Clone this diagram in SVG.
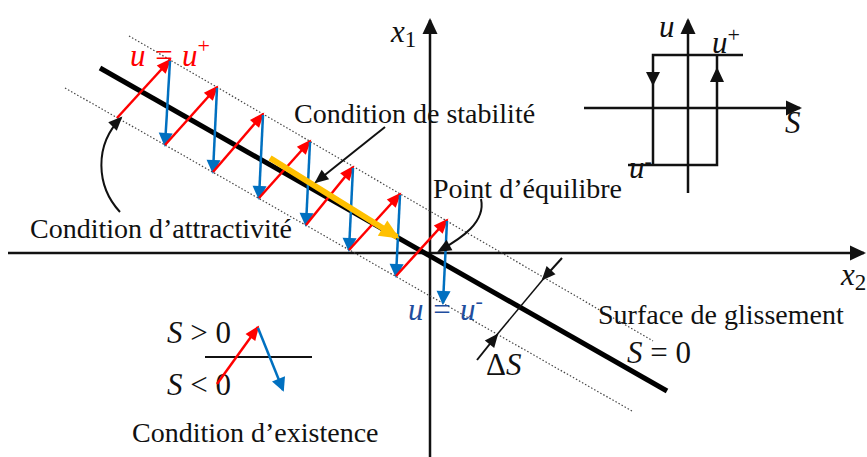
<svg xmlns="http://www.w3.org/2000/svg" width="867" height="457" viewBox="0 0 867 457">
<defs>
<style>
.lbl{font-family:"Liberation Serif","Times New Roman",serif;font-size:28px;fill:#111}
.math{font-family:"Liberation Serif","Times New Roman",serif;font-style:italic;font-size:31px;fill:#111}
.up{font-style:normal}
.ax{stroke:#111;stroke-width:2.5;fill:none}
.red{stroke:#FF0000;stroke-width:2.5;fill:none;marker-end:url(#hr)}
.blue{stroke:#0070C0;stroke-width:2.5;fill:none;marker-end:url(#hb)}
.dot{stroke:#444;stroke-width:1.2;stroke-dasharray:1.5 2;fill:none}
.blk{stroke:#111;stroke-width:2;fill:none;marker-end:url(#hk)}
</style>
<marker id="hr" markerUnits="userSpaceOnUse" markerWidth="16" markerHeight="14" refX="13" refY="6" orient="auto" overflow="visible"><path d="M0,0 L15,6 L0,12 z" fill="#FF0000"/></marker>
<marker id="hb" markerUnits="userSpaceOnUse" markerWidth="16" markerHeight="16" refX="12" refY="7" orient="auto" overflow="visible"><path d="M0,0 L14,7 L0,14 z" fill="#0070C0"/></marker>
<marker id="hy" markerUnits="userSpaceOnUse" markerWidth="22" markerHeight="20" refX="17" refY="9" orient="auto" overflow="visible"><path d="M0,0 L20,9 L0,18 z" fill="#FFC000"/></marker>
<marker id="hk" markerUnits="userSpaceOnUse" markerWidth="16" markerHeight="14" refX="12" refY="6" orient="auto" overflow="visible"><path d="M0,0 L14,6 L0,12 z" fill="#111"/></marker>
<marker id="ha" markerUnits="userSpaceOnUse" markerWidth="18" markerHeight="16" refX="14" refY="7.5" orient="auto" overflow="visible"><path d="M0,0 L16,7.5 L0,15 z" fill="#111"/></marker>
</defs>
<rect width="867" height="457" fill="#fff"/>

<g id="axes">
<line class="ax" x1="8" y1="253" x2="864" y2="253" marker-end="url(#ha)"/>
<line class="ax" x1="430" y1="457" x2="430" y2="20" marker-end="url(#ha)"/>
<text class="math" x="391" y="42" font-size="33">x<tspan class="up" font-size="23" dy="5">1</tspan></text>
<text class="math" x="841" y="285" font-size="33">x<tspan class="up" font-size="23" dy="5">2</tspan></text>
</g>

<g id="surface">
<line x1="100" y1="68" x2="667" y2="391" stroke="#000" stroke-width="5"/>
<line class="dot" x1="129" y1="36" x2="653" y2="341"/>
<line class="dot" x1="65" y1="88" x2="632" y2="411"/>
</g>

<g id="zigzag">
<line class="red" x1="117" y1="118" x2="170" y2="60"/>
<line class="blue" x1="170" y1="61" x2="165" y2="145"/>
<line class="red" x1="165" y1="145" x2="217" y2="87"/>
<line class="blue" x1="217" y1="88" x2="213" y2="172"/>
<line class="red" x1="213" y1="172" x2="263" y2="114"/>
<line class="blue" x1="263" y1="115" x2="259" y2="198"/>
<line class="red" x1="259" y1="198" x2="310" y2="141"/>
<line class="blue" x1="310" y1="142" x2="306" y2="225"/>
<line class="red" x1="306" y1="225" x2="353" y2="167"/>
<line class="blue" x1="353" y1="168" x2="349" y2="250"/>
<line class="red" x1="349" y1="250" x2="400" y2="194"/>
<line class="blue" x1="400" y1="195" x2="396" y2="276"/>
<line class="red" x1="396" y1="276" x2="447" y2="220"/>
<line class="blue" x1="447" y1="221" x2="443" y2="303"/>
</g>

<g id="stabilite">
<line x1="270" y1="158" x2="397" y2="237" stroke="#FFC000" stroke-width="6" marker-end="url(#hy)"/>
<line class="blk" x1="385" y1="127" x2="316" y2="182"/>
<text class="lbl" x="294" y="123">Condition de stabilité</text>
</g>

<g id="attractivite">
<path class="blk" d="M120 212 C96 186 94 145 121 118"/>
<text class="lbl" x="30" y="238">Condition d’attractivité</text>
</g>

<g id="equilibre">
<path class="blk" d="M481 199 C486 222 462 238 439 251"/>
<text class="lbl" x="433" y="198">Point d’équilibre</text>
</g>

<g id="labels-u">
<text class="math" x="130" y="66" style="fill:#FF0000">u = u<tspan class="up" font-size="22" dy="-13">+</tspan></text>
<text class="math" x="408" y="320" style="fill:#1F4E9E">u = u<tspan class="up" font-size="22" dy="-12">-</tspan></text>
</g>

<g id="glissement">
<line x1="477" y1="360" x2="497" y2="335" class="blk"/>
<line x1="495" y1="337" x2="545" y2="277" stroke="#111" stroke-width="1.5"/>
<line x1="562" y1="258" x2="543" y2="279" class="blk"/>
<text class="math" x="486" y="375" font-size="29"><tspan class="up">Δ</tspan>S</text>
<text class="lbl" x="598" y="324">Surface de glissement</text>
<text class="math" x="627" y="363">S <tspan class="up">= 0</tspan></text>
</g>

<g id="existence">
<text class="math" x="167" y="343">S <tspan class="up">&gt; 0</tspan></text>
<text class="math" x="167" y="395">S <tspan class="up">&lt; 0</tspan></text>
<line x1="205" y1="357" x2="312" y2="357" stroke="#111" stroke-width="2"/>
<line class="red" x1="217" y1="384" x2="258" y2="327"/>
<line class="blue" x1="258" y1="328" x2="283" y2="390"/>
<text class="lbl" x="132" y="442">Condition d’existence</text>
</g>

<g id="inset">
<line class="ax" x1="688" y1="193" x2="688" y2="20" marker-end="url(#ha)"/>
<line class="ax" x1="584" y1="108" x2="800" y2="108" marker-end="url(#ha)"/>
<polyline class="ax" points="743,55 653,55 653,165"/>
<polyline class="ax" points="628,165 717,165 717,55"/>
<polygon points="646,72 660,72 653,86" fill="#111"/>
<polygon points="710,82 724,82 717,67" fill="#111"/>
<text class="math" x="659" y="37">u</text>
<text class="math" x="712" y="53">u<tspan class="up" font-size="22" dy="-11">+</tspan></text>
<text class="math" x="785" y="133">S</text>
<text class="math" x="629" y="178">u<tspan class="up" font-size="22" dy="-10">-</tspan></text>
</g>
</svg>
